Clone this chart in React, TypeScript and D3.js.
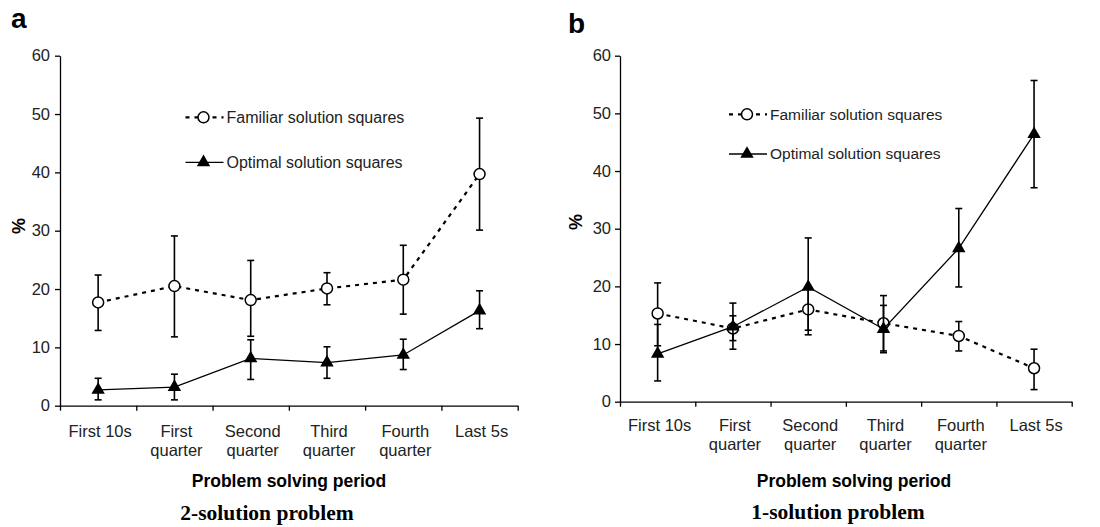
import * as d3 from 'd3';
import { useRef, useEffect } from 'react';

const periods = ["First 10s", "First\nquarter", "Second\nquarter", "Third\nquarter", "Fourth\nquarter", "Last 5s"];
const yTicks = [0, 10, 20, 30, 40, 50, 60];
const seriesNames = ["Familiar solution squares", "Optimal solution squares"];

// a: 2-solution problem
const familiarA = [17.7, 20.5, 18.1, 20.1, 21.6, 39.7];
const familiarAHi = [22.4, 29.1, 24.9, 22.8, 27.5, 49.3];
const familiarALo = [12.9, 11.8, 11.9, 17.3, 15.7, 30.1];
const optimalA = [2.7, 3.2, 8.1, 7.4, 8.7, 16.3];
const optimalAHi = [4.7, 5.4, 11.3, 10.1, 11.4, 19.7];
const optimalALo = [1.0, 1.0, 4.5, 4.7, 6.2, 13.2];

// b: 1-solution problem
const familiarB = [15.3, 12.7, 16.0, 13.6, 11.4, 5.8];
const familiarBHi = [20.6, 14.9, 19.6, 18.4, 13.9, 9.1];
const familiarBLo = [9.7, 10.6, 12.4, 8.8, 8.8, 2.1];
const optimalB = [8.3, 13.0, 19.9, 12.6, 26.6, 46.4];
const optimalBHi = [13.4, 17.1, 28.4, 16.7, 33.5, 55.7];
const optimalBLo = [3.6, 9.1, 11.6, 8.5, 19.9, 37.1];

const SANS = "'Liberation Sans', Arial, sans-serif";
const SERIF = "'Liberation Serif', 'Times New Roman', serif";

function drawPanel(svg, p) {
  const x = d3.scaleBand().domain(periods).range([p.left, p.right]).padding(0);
  const edge = d3.scaleLinear().domain([0, periods.length]).range([p.left, p.right]);
  const y = d3.scaleLinear().domain([0, 60]).range([p.bottom, p.top]);
  const cx = i => x(periods[i]) + x.bandwidth() / 2;

  const g = svg.append("g").attr("font-family", SANS).attr("fill", "#000");

  // panel letter
  g.append("text")
    .attr("x", p.letterX).attr("y", p.letterY)
    .attr("font-size", 28).attr("font-weight", "bold")
    .text(p.letter);

  // y axis
  g.append("g")
    .attr("transform", `translate(${p.left},0)`)
    .call(d3.axisLeft(y).tickValues(yTicks).tickSize(5).tickSizeOuter(0).tickPadding(p.tickPad))
    .call(a => a.attr("font-family", SANS).attr("font-size", 16.5))
    .call(a => a.selectAll("path, line").attr("stroke", "#000").attr("stroke-width", 1.3))
    .call(a => a.selectAll("text").attr("fill", "#222"));

  // x axis, ticks on period boundaries
  g.append("g")
    .attr("transform", `translate(0,${p.bottom})`)
    .call(d3.axisBottom(edge).tickValues(d3.range(periods.length + 1)).tickFormat(() => "").tickSize(5).tickSizeOuter(0))
    .call(a => a.selectAll("path, line").attr("stroke", "#000").attr("stroke-width", 1.3));

  // x tick labels (two lines)
  const lbl = g.append("g").attr("font-size", 16.5).attr("fill", "#222").attr("text-anchor", "middle");
  periods.forEach((d, i) => {
    const t = lbl.append("text").attr("x", cx(i) + 2).attr("y", p.bottom + p.labelOff);
    d.split("\n").forEach((s, k) => {
      t.append("tspan").attr("x", cx(i) + 2).attr("dy", k === 0 ? 0 : 19).text(s);
    });
  });

  // axis titles
  g.append("text")
    .attr("transform", `translate(${p.pctX},${p.pctY}) rotate(-90)`)
    .attr("text-anchor", "middle").attr("font-size", 18).attr("font-weight", "bold")
    .attr("dominant-baseline", "central")
    .text("%");
  g.append("text")
    .attr("x", p.xTitleX).attr("y", p.xTitleY)
    .attr("text-anchor", "middle").attr("font-size", 17.5).attr("font-weight", "bold")
    .text("Problem solving period");
  g.append("text")
    .attr("x", p.titleX).attr("y", p.titleY)
    .attr("text-anchor", "middle").attr("font-size", 21.5).attr("font-weight", "bold")
    .attr("font-family", SERIF)
    .text(p.title);

  const line = d3.line().x((d, i) => cx(i)).y(d => y(d));
  const tri = d3.symbol().type(d3.symbolTriangle).size(78);

  const drawSeries = (vals, hi, lo, kind) => {
    const s = g.append("g");
    s.append("path")
      .datum(vals)
      .attr("d", line)
      .attr("fill", "none")
      .attr("stroke", "#000")
      .attr("stroke-width", kind === "circle" ? 2.2 : 1.3)
      .attr("stroke-dasharray", kind === "circle" ? "4,5" : null);
    vals.forEach((v, i) => {
      const xx = cx(i);
      s.append("line").attr("x1", xx).attr("x2", xx).attr("y1", y(hi[i])).attr("y2", y(lo[i]))
        .attr("stroke", "#000").attr("stroke-width", 1.6);
      [hi[i], lo[i]].forEach(e => {
        s.append("line").attr("x1", xx - 3.5).attr("x2", xx + 3.5).attr("y1", y(e)).attr("y2", y(e))
          .attr("stroke", "#000").attr("stroke-width", 1.6);
      });
    });
    vals.forEach((v, i) => {
      if (kind === "circle") {
        s.append("circle").attr("cx", cx(i)).attr("cy", y(v)).attr("r", 5.5)
          .attr("fill", "#fff").attr("stroke", "#000").attr("stroke-width", 1.5);
      } else {
        s.append("path").attr("d", tri).attr("transform", `translate(${cx(i)},${y(v)})`).attr("fill", "#000");
      }
    });
  };

  drawSeries(p.fam, p.famHi, p.famLo, "circle");
  drawSeries(p.opt, p.optHi, p.optLo, "triangle");

  // legend
  const lg = g.append("g").attr("font-size", p.legendFont).attr("fill", "#222");
  [0, 1].forEach(k => {
    const ly = p.legendY[k];
    lg.append("line").attr("x1", p.legendX).attr("x2", p.legendX + 38).attr("y1", ly).attr("y2", ly)
      .attr("stroke", "#000")
      .attr("stroke-width", k === 0 ? 2.2 : 1.3)
      .attr("stroke-dasharray", k === 0 ? "4,5" : null);
    if (k === 0) {
      lg.append("circle").attr("cx", p.legendX + 18).attr("cy", ly).attr("r", 5.5)
        .attr("fill", "#fff").attr("stroke", "#000").attr("stroke-width", 1.5);
    } else {
      lg.append("path").attr("d", tri).attr("transform", `translate(${p.legendX + 18},${ly})`).attr("fill", "#000");
    }
    lg.append("text").attr("x", p.legendX + 41).attr("y", ly).attr("dy", "0.35em").text(seriesNames[k]);
  });
}

export default function App() {
  const ref = useRef(null);

  useEffect(() => {
    const svg = d3.select(ref.current);
    svg.selectAll("*").remove();

    drawPanel(svg, {
      letter: "a", letterX: 11, letterY: 28,
      title: "2-solution problem",
      left: 60, right: 517.7, top: 55.7, bottom: 405.7, tickPad: 5,
      labelOff: 31, pctX: 18.5, pctY: 226,
      xTitleX: 289, xTitleY: 487, titleX: 267, titleY: 519.5,
      fam: familiarA, famHi: familiarAHi, famLo: familiarALo,
      opt: optimalA, optHi: optimalAHi, optLo: optimalALo,
      legendX: 185.5, legendY: [117.3, 162.3], legendFont: 16,
    });

    drawPanel(svg, {
      letter: "b", letterX: 568, letterY: 33,
      title: "1-solution problem",
      left: 620, right: 1071.7, top: 55.7, bottom: 401.7, tickPad: 4,
      labelOff: 29.5, pctX: 575.5, pctY: 222,
      xTitleX: 854, xTitleY: 487, titleX: 838, titleY: 519,
      fam: familiarB, famHi: familiarBHi, famLo: familiarBLo,
      opt: optimalB, optHi: optimalBHi, optLo: optimalBLo,
      legendX: 729, legendY: [114.3, 154], legendFont: 15.5,
    });
  }, []);

  return (
    <svg ref={ref} width={1100} height={527}
      style={{ position: "absolute", left: 0, top: 0, background: "#fff" }} />
  );
}
